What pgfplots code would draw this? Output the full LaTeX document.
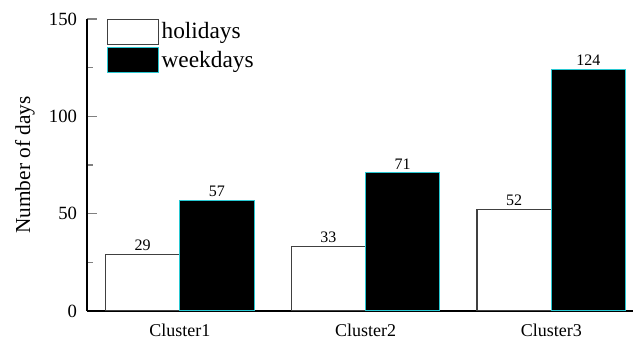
\documentclass[border=0pt]{standalone}
\usepackage{pgfplots}
\pgfplotsset{compat=1.18}
\usepackage{fontspec}
\setmainfont{Liberation Serif}

\definecolor{edgecyan}{RGB}{40,200,210}

\begin{document}
\begin{tikzpicture}
\begin{axis}[
  scale only axis,
  anchor=south west, at={(0,0)},
  width=409.5pt, height=219pt,
  xmin=-0.5, xmax=2.44,
  ymin=0, ymax=150,
  axis x line=bottom, axis y line=left,
  axis line style={-, line width=0.9pt},
  xtick={0,1,2},
  xticklabels={Cluster1,Cluster2,Cluster3},
  x tick style={draw=none},
  ytick={0,50,100,150},
  minor y tick num=1,
  tick align=inside,
  y tick style={line width=0.9pt},
  major tick length=7.5pt,
  minor tick length=4.5pt,
  /pgf/number format/assume math mode=true,
  x tick label style={font=\fontsize{13.5}{15}\selectfont, yshift=1pt},
  y tick label style={font=\fontsize{14}{16}\selectfont, xshift=-4pt},
  ylabel={Number of days},
  every axis y label/.style={at={(axis description cs:-0.1136,0.5)}, rotate=90,
    anchor=center, font=\fontsize{16}{18}\selectfont},
  ybar,
  bar width=0.4,
  nodes near coords,
  nodes near coords style={font=\fontsize{12}{14}\selectfont, yshift=-1pt},
  legend style={draw=none, fill=none, at={(0.037,1.0)}, anchor=north west,
    font=\fontsize{17.5}{19}\selectfont, row sep=2pt, inner sep=0pt, outer sep=0pt,
    /tikz/every even column/.append style={column sep=4pt}},
  legend cell align=left,
  legend image code/.code={\draw[#1] (0pt,-9.25pt) rectangle (38pt,9.25pt);},
]
\addplot[bar shift=-0.2, fill=white, draw=black!75, line width=0.8pt]
  coordinates {(0,29) (1,33) (2,52)};
\addplot[bar shift=0.2, fill=black, draw=edgecyan, line width=0.8pt]
  coordinates {(0,57) (1,71) (2,124)};
\legend{holidays, weekdays}
\end{axis}
% page frame around the axis and its labels
\pgfresetboundingbox
\path (-65.25pt,-21pt) rectangle (409.5pt,233.25pt);
\end{tikzpicture}
\end{document}
